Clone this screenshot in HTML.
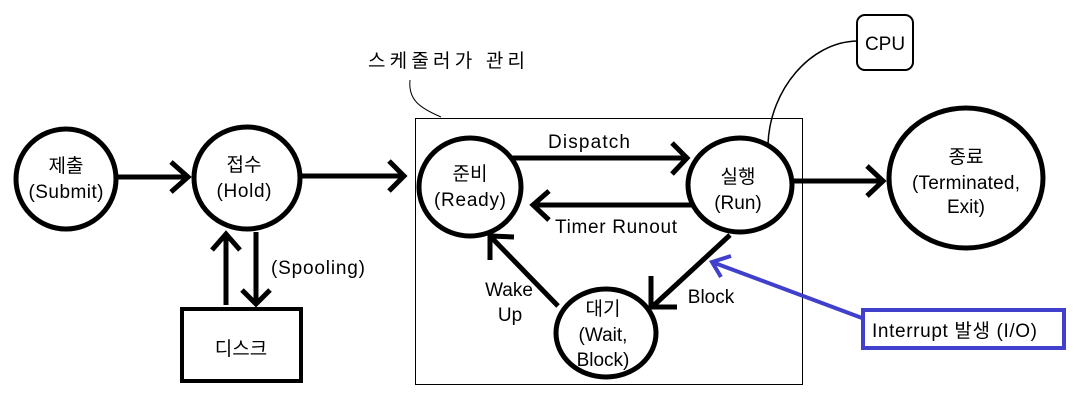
<!DOCTYPE html>
<html><head><meta charset="utf-8"><style>
body{margin:0;background:#fff;}
svg{display:block;}
text{font-family:"Liberation Sans","Noto Sans CJK KR",sans-serif;font-size:19px;fill:#000;}
</style></head><body>
<svg width="1077" height="416" viewBox="0 0 1077 416" xmlns="http://www.w3.org/2000/svg">
<rect x="0" y="0" width="1077" height="416" fill="#fff"/>
<rect x="415.5" y="118.5" width="387" height="266" fill="none" stroke="#000" stroke-width="1"/>
<text x="368" y="67" font-size="20" textLength="157">스케줄러가 관리</text>
<path d="M410 80 C408 100 420 108 441 117" fill="none" stroke="#000" stroke-width="1"/>
<g fill="none" stroke="#000" stroke-width="5">
<ellipse cx="66" cy="179" rx="50" ry="50"/>
<ellipse cx="247" cy="178" rx="53" ry="51"/>
<rect x="182" y="309" width="119" height="72" stroke-width="4"/>
<ellipse cx="470" cy="187" rx="51" ry="49"/>
<ellipse cx="740" cy="185" rx="52" ry="47"/>
<ellipse cx="606" cy="333" rx="50" ry="44"/>
<ellipse cx="966" cy="178" rx="77" ry="70"/>
<path d="M118 177 H188 M171 162 L188 177 L171 192"/>
<path d="M302 176 H404 M389 161 L404 176 L389 191"/>
<path d="M226 305 V234 M212 250 L226 234 L240 250"/>
<path d="M256 232 V304 M242 290 L256 304 L270 290"/>
<path d="M512 158 H687 M672 143 L687 158 L672 174"/>
<path d="M692 205 H533 M549 191 L533 205 L549 220"/>
<path d="M730 235 L652 307 M651 276 L651 307 L677 307"/>
<path d="M558 306 L490 236 M490 260 L490 236 L514 237"/>
<path d="M792 181 H883 M867 166 L883 181 L867 196"/>
</g>
<rect x="857" y="15" width="56" height="55" rx="8" fill="none" stroke="#000" stroke-width="2"/>
<text x="885" y="50" text-anchor="middle">CPU</text>
<path d="M768 144 C770 90 810 42 857 41" fill="none" stroke="#000" stroke-width="1.5"/>
<rect x="863" y="310" width="201" height="38" fill="none" stroke="#4040cc" stroke-width="4"/>
<text x="872" y="337" textLength="165">Interrupt 발생 (I/O)</text>
<path d="M862 318 L712 262 M731 256 L712 262 L721 277" fill="none" stroke="#4040cc" stroke-width="4"/>
<g text-anchor="middle">
<text x="66" y="172">제출</text><text x="66" y="198" textLength="75">(Submit)</text>
<text x="244" y="171">접수</text><text x="244" y="197" textLength="55">(Hold)</text>
<text x="241" y="355" font-size="21">디스크</text>
<text x="318" y="274" textLength="94">(Spooling)</text>
<text x="470" y="180">준비</text><text x="470" y="206" textLength="72">(Ready)</text>
<text x="738" y="183">실행</text><text x="738" y="209">(Run)</text>
<text x="603" y="315">대기</text><text x="603" y="341">(Wait,</text><text x="603" y="366">Block)</text>
<text x="966" y="163">종료</text><text x="966" y="189" textLength="108">(Terminated,</text><text x="966" y="213">Exit)</text>
<text x="589" y="148" textLength="82">Dispatch</text>
<text x="616" y="233" textLength="122">Timer Runout</text>
<text x="711" y="303">Block</text>
<text x="509" y="296">Wake</text><text x="510" y="321">Up</text>
</g>
</svg>
</body></html>
